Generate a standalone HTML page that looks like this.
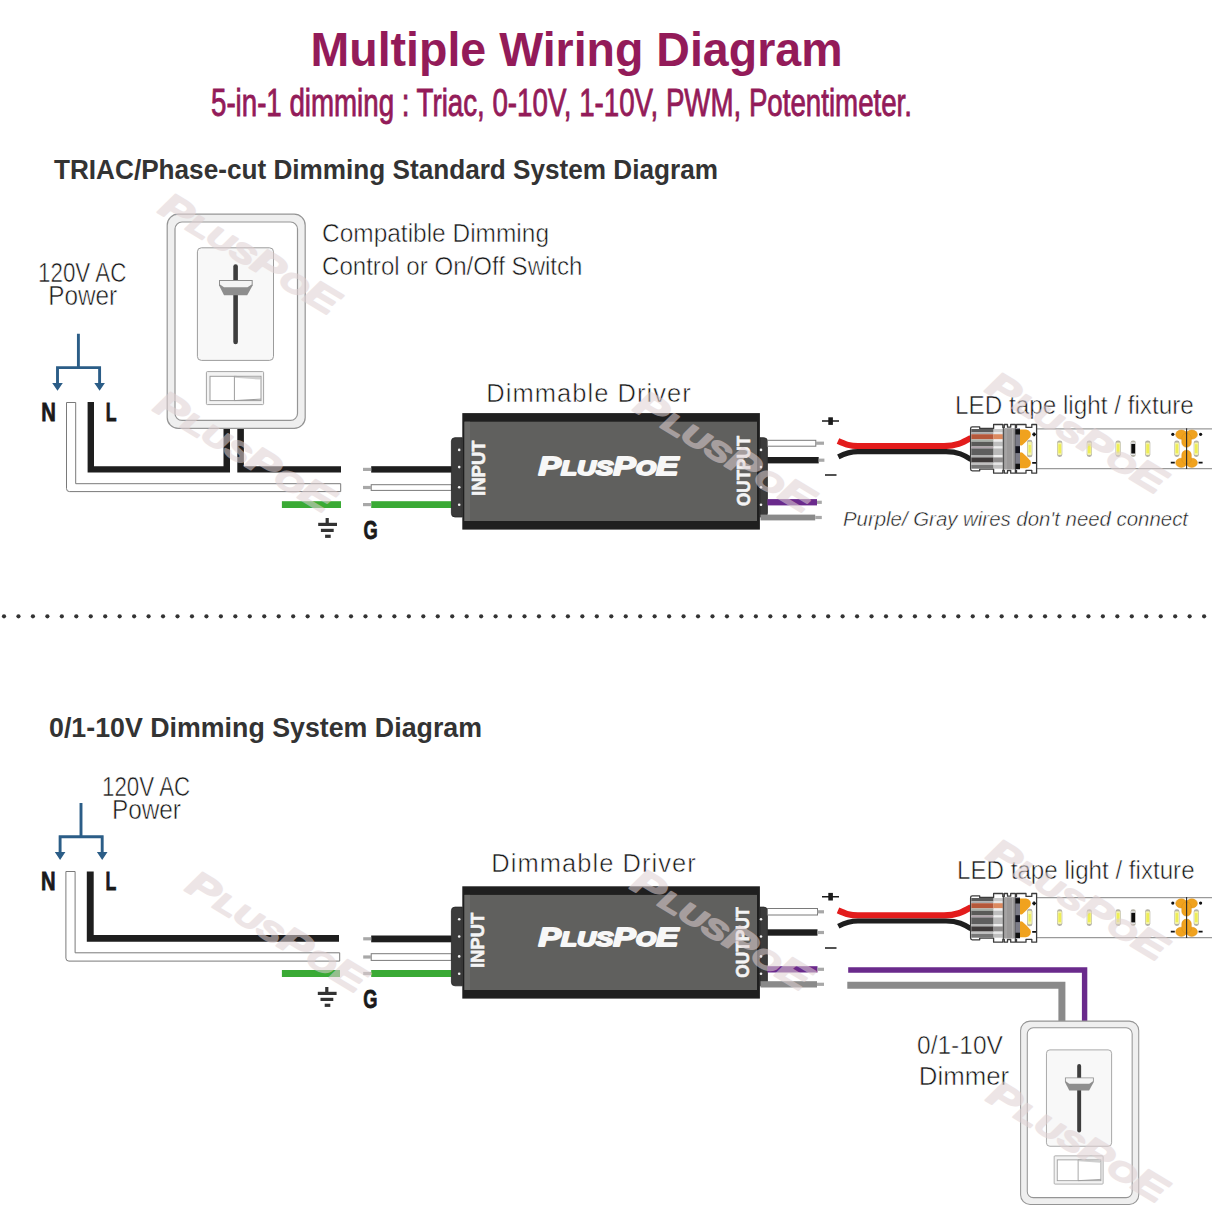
<!DOCTYPE html>
<html><head><meta charset="utf-8"><style>
html,body{margin:0;padding:0;background:#fff;}
svg{display:block;}
</style></head><body>
<svg width="1215" height="1227" viewBox="0 0 1215 1227">
<rect width="1215" height="1227" fill="#ffffff"/>
<text x="310.5" y="66" font-family="Liberation Sans" font-size="48.5" font-weight="bold" font-style="normal" fill="#931b59" textLength="532" lengthAdjust="spacingAndGlyphs" >Multiple Wiring Diagram</text>
<text x="211" y="115.5" font-family="Liberation Sans" font-size="39.5" font-weight="normal" font-style="normal" fill="#931b59" textLength="701" lengthAdjust="spacingAndGlyphs" stroke="#931b59" stroke-width="0.9">5-in-1 dimming : Triac, 0-10V, 1-10V, PWM, Potentimeter.</text>
<text x="54" y="178.6" font-family="Liberation Sans" font-size="27" font-weight="bold" font-style="normal" fill="#333333" textLength="664" lengthAdjust="spacingAndGlyphs" >TRIAC/Phase-cut Dimming Standard System Diagram</text>
<text x="49" y="736.5" font-family="Liberation Sans" font-size="27" font-weight="bold" font-style="normal" fill="#333333" textLength="433" lengthAdjust="spacingAndGlyphs" >0/1-10V Dimming System Diagram</text>
<circle cx="4.00" cy="616.3" r="2.1" fill="#333"/>
<circle cx="18.46" cy="616.3" r="2.1" fill="#333"/>
<circle cx="32.92" cy="616.3" r="2.1" fill="#333"/>
<circle cx="47.38" cy="616.3" r="2.1" fill="#333"/>
<circle cx="61.84" cy="616.3" r="2.1" fill="#333"/>
<circle cx="76.30" cy="616.3" r="2.1" fill="#333"/>
<circle cx="90.75" cy="616.3" r="2.1" fill="#333"/>
<circle cx="105.21" cy="616.3" r="2.1" fill="#333"/>
<circle cx="119.67" cy="616.3" r="2.1" fill="#333"/>
<circle cx="134.13" cy="616.3" r="2.1" fill="#333"/>
<circle cx="148.59" cy="616.3" r="2.1" fill="#333"/>
<circle cx="163.05" cy="616.3" r="2.1" fill="#333"/>
<circle cx="177.51" cy="616.3" r="2.1" fill="#333"/>
<circle cx="191.97" cy="616.3" r="2.1" fill="#333"/>
<circle cx="206.43" cy="616.3" r="2.1" fill="#333"/>
<circle cx="220.88" cy="616.3" r="2.1" fill="#333"/>
<circle cx="235.34" cy="616.3" r="2.1" fill="#333"/>
<circle cx="249.80" cy="616.3" r="2.1" fill="#333"/>
<circle cx="264.26" cy="616.3" r="2.1" fill="#333"/>
<circle cx="278.72" cy="616.3" r="2.1" fill="#333"/>
<circle cx="293.18" cy="616.3" r="2.1" fill="#333"/>
<circle cx="307.64" cy="616.3" r="2.1" fill="#333"/>
<circle cx="322.10" cy="616.3" r="2.1" fill="#333"/>
<circle cx="336.56" cy="616.3" r="2.1" fill="#333"/>
<circle cx="351.02" cy="616.3" r="2.1" fill="#333"/>
<circle cx="365.47" cy="616.3" r="2.1" fill="#333"/>
<circle cx="379.93" cy="616.3" r="2.1" fill="#333"/>
<circle cx="394.39" cy="616.3" r="2.1" fill="#333"/>
<circle cx="408.85" cy="616.3" r="2.1" fill="#333"/>
<circle cx="423.31" cy="616.3" r="2.1" fill="#333"/>
<circle cx="437.77" cy="616.3" r="2.1" fill="#333"/>
<circle cx="452.23" cy="616.3" r="2.1" fill="#333"/>
<circle cx="466.69" cy="616.3" r="2.1" fill="#333"/>
<circle cx="481.15" cy="616.3" r="2.1" fill="#333"/>
<circle cx="495.61" cy="616.3" r="2.1" fill="#333"/>
<circle cx="510.06" cy="616.3" r="2.1" fill="#333"/>
<circle cx="524.52" cy="616.3" r="2.1" fill="#333"/>
<circle cx="538.98" cy="616.3" r="2.1" fill="#333"/>
<circle cx="553.44" cy="616.3" r="2.1" fill="#333"/>
<circle cx="567.90" cy="616.3" r="2.1" fill="#333"/>
<circle cx="582.36" cy="616.3" r="2.1" fill="#333"/>
<circle cx="596.82" cy="616.3" r="2.1" fill="#333"/>
<circle cx="611.28" cy="616.3" r="2.1" fill="#333"/>
<circle cx="625.74" cy="616.3" r="2.1" fill="#333"/>
<circle cx="640.20" cy="616.3" r="2.1" fill="#333"/>
<circle cx="654.65" cy="616.3" r="2.1" fill="#333"/>
<circle cx="669.11" cy="616.3" r="2.1" fill="#333"/>
<circle cx="683.57" cy="616.3" r="2.1" fill="#333"/>
<circle cx="698.03" cy="616.3" r="2.1" fill="#333"/>
<circle cx="712.49" cy="616.3" r="2.1" fill="#333"/>
<circle cx="726.95" cy="616.3" r="2.1" fill="#333"/>
<circle cx="741.41" cy="616.3" r="2.1" fill="#333"/>
<circle cx="755.87" cy="616.3" r="2.1" fill="#333"/>
<circle cx="770.33" cy="616.3" r="2.1" fill="#333"/>
<circle cx="784.79" cy="616.3" r="2.1" fill="#333"/>
<circle cx="799.25" cy="616.3" r="2.1" fill="#333"/>
<circle cx="813.70" cy="616.3" r="2.1" fill="#333"/>
<circle cx="828.16" cy="616.3" r="2.1" fill="#333"/>
<circle cx="842.62" cy="616.3" r="2.1" fill="#333"/>
<circle cx="857.08" cy="616.3" r="2.1" fill="#333"/>
<circle cx="871.54" cy="616.3" r="2.1" fill="#333"/>
<circle cx="886.00" cy="616.3" r="2.1" fill="#333"/>
<circle cx="900.46" cy="616.3" r="2.1" fill="#333"/>
<circle cx="914.92" cy="616.3" r="2.1" fill="#333"/>
<circle cx="929.38" cy="616.3" r="2.1" fill="#333"/>
<circle cx="943.83" cy="616.3" r="2.1" fill="#333"/>
<circle cx="958.29" cy="616.3" r="2.1" fill="#333"/>
<circle cx="972.75" cy="616.3" r="2.1" fill="#333"/>
<circle cx="987.21" cy="616.3" r="2.1" fill="#333"/>
<circle cx="1001.67" cy="616.3" r="2.1" fill="#333"/>
<circle cx="1016.13" cy="616.3" r="2.1" fill="#333"/>
<circle cx="1030.59" cy="616.3" r="2.1" fill="#333"/>
<circle cx="1045.05" cy="616.3" r="2.1" fill="#333"/>
<circle cx="1059.51" cy="616.3" r="2.1" fill="#333"/>
<circle cx="1073.97" cy="616.3" r="2.1" fill="#333"/>
<circle cx="1088.42" cy="616.3" r="2.1" fill="#333"/>
<circle cx="1102.88" cy="616.3" r="2.1" fill="#333"/>
<circle cx="1117.34" cy="616.3" r="2.1" fill="#333"/>
<circle cx="1131.80" cy="616.3" r="2.1" fill="#333"/>
<circle cx="1146.26" cy="616.3" r="2.1" fill="#333"/>
<circle cx="1160.72" cy="616.3" r="2.1" fill="#333"/>
<circle cx="1175.18" cy="616.3" r="2.1" fill="#333"/>
<circle cx="1189.64" cy="616.3" r="2.1" fill="#333"/>
<circle cx="1204.10" cy="616.3" r="2.1" fill="#333"/>
<text x="38" y="281.6" font-family="Liberation Sans" font-size="27" font-weight="normal" font-style="normal" fill="#161616" textLength="88.4" lengthAdjust="spacingAndGlyphs"  stroke="#fff" stroke-width="0.55">120V AC</text>
<text x="48.2" y="304.8" font-family="Liberation Sans" font-size="27" font-weight="normal" font-style="normal" fill="#161616" textLength="69" lengthAdjust="spacingAndGlyphs"  stroke="#fff" stroke-width="0.55">Power</text>
<g transform="translate(0,0)" stroke="#2b5d87" stroke-width="2.9" fill="none"><path d="M78.4,333.8 V367.6 M56.2,367.6 H100.9 M57.5,366.3 V384 M99.6,366.3 V384"/></g>
<g transform="translate(0,0)" fill="#2b5d87"><path d="M52.2,383 H62.8 L57.5,390.8 Z M94.3,383 H104.9 L99.6,390.8 Z"/></g>
<text x="41.2" y="420.5" font-family="Liberation Sans" font-size="26.5" font-weight="bold" font-style="normal" fill="#1a1a1a" textLength="14.6" lengthAdjust="spacingAndGlyphs" stroke="#1a1a1a" stroke-width="0.8">N</text>
<text x="105.8" y="420.5" font-family="Liberation Sans" font-size="26.5" font-weight="bold" font-style="normal" fill="#1a1a1a" textLength="10.8" lengthAdjust="spacingAndGlyphs" stroke="#1a1a1a" stroke-width="0.8">L</text>
<path d="M66.5,402.5 H75.7 V483.7 H340.7 V491.6 H69.5 Q66.5,491.6 66.5,488.6 Z" fill="#fff" stroke="#7a7a7a" stroke-width="1"/>
<path d="M87.6,402 H94 V466.2 H223.5 V429 H230 V472.6 H87.6 Z" fill="#1e1e1e"/>
<path d="M237.3,429 H243.9 V466.2 H341 V472.6 H237.3 Z" fill="#1e1e1e"/>
<rect x="281.90" y="501.20" width="59.10" height="6.80" fill="#3aaa35" />
<g transform="translate(166.6,213.6) scale(1.0)"><rect x="0.6" y="0.6" width="138.0" height="214.20000000000002" rx="11" fill="#efefef" stroke="#959595" stroke-width="1.2"/><rect x="8.4" y="8.4" width="122.5" height="198.4" rx="7" fill="#ffffff" stroke="#959595" stroke-width="1.2"/><rect x="30.8" y="34.2" width="76.1" height="112.6" rx="4" fill="#f8f8f8" stroke="#9c9c9c" stroke-width="1"/><rect x="66.7" y="50.7" width="4.6" height="80" rx="2.3" fill="#3e3e3e"/><polygon points="52.4,66.4 86.1,66.4 86.1,71.7 80.6,81.6 57.4,81.6 52.4,71.7" fill="#8e8e8e"/><polygon points="53.4,67.4 85.1,67.4 85.1,70.9 80.9,73.7 57.4,73.7 53.4,70.9" fill="#f4f4f4"/><rect x="39.8" y="158" width="57.2" height="33" rx="1" fill="#f3f3f3" stroke="#a4a4a4" stroke-width="1"/><rect x="43.4" y="162.7" width="51" height="24.3" fill="#fff" stroke="#9c9c9c" stroke-width="1"/><path d="M67.8,162.7 V187 M67.8,162.7 L94.4,164.5 M67.8,187 L94.4,185.5" stroke="#9c9c9c" stroke-width="1" fill="none"/><polygon points="68.3,163.2 93.9,163.2 93.9,166 68.3,164.2" fill="#cfcfcf"/></g>
<text x="322" y="242.4" font-family="Liberation Sans" font-size="26" font-weight="normal" font-style="normal" fill="#161616" textLength="227" lengthAdjust="spacingAndGlyphs"  stroke="#fff" stroke-width="0.55">Compatible Dimming</text>
<text x="322" y="274.7" font-family="Liberation Sans" font-size="26" font-weight="normal" font-style="normal" fill="#161616" textLength="260.5" lengthAdjust="spacingAndGlyphs"  stroke="#fff" stroke-width="0.55">Control or On/Off Switch</text>
<g transform="translate(0,0)" fill="#333"><rect x="325.6" y="518" width="3.2" height="7"/><rect x="318.2" y="522.8" width="18.8" height="3.2"/><rect x="320.9" y="528.8" width="12.8" height="3.2"/><rect x="325.1" y="534.7" width="5.6" height="3.2"/></g>
<text x="363.6" y="538.6" font-family="Liberation Sans" font-size="26.3" font-weight="bold" font-style="normal" fill="#1a1a1a" textLength="14.2" lengthAdjust="spacingAndGlyphs" stroke="#1a1a1a" stroke-width="0.8">G</text>
<rect x="371.20" y="466.20" width="80.50" height="6.40" fill="#1e1e1e" />
<rect x="363.00" y="467.80" width="8.20" height="3.20" fill="#a8a8a8" />
<rect x="371.20" y="484.70" width="80.40" height="5.70" fill="#fff" stroke="#7a7a7a" stroke-width="1"/>
<rect x="363.00" y="485.90" width="8.20" height="3.20" fill="#a8a8a8" />
<rect x="371.20" y="501.20" width="80.50" height="6.80" fill="#3aaa35" />
<rect x="363.00" y="503.00" width="8.20" height="3.20" fill="#a8a8a8" />
<text x="486.3" y="401.5" font-family="Liberation Sans" font-size="25.5" font-weight="normal" font-style="normal" fill="#161616" textLength="204.5" lengthAdjust="spacing"  stroke="#fff" stroke-width="0.55">Dimmable Driver</text>
<rect x="462.30" y="413.10" width="297.60" height="116.50" fill="#1f1f1f" />
<rect x="464.50" y="421.70" width="292.50" height="99.30" fill="#60605e" />
<rect x="464.50" y="421.70" width="5.50" height="99.30" fill="#6a6a68" />
<path d="M462.3,437.7 H455 Q451.4,437.7 451.4,441.3 V513.4 Q451.4,517 455,517 H462.3 Z" fill="#3b3b3b" stroke="#262626" stroke-width="0.8"/>
<path d="M759.9,437.7 H763.8 Q767.4,437.7 767.4,441.3 V513.4 Q767.4,517 763.8,517 H759.9 Z" fill="#3b3b3b" stroke="#262626" stroke-width="0.8"/>
<circle cx="459.2" cy="449.9" r="1.3" fill="#f0f0f0"/>
<circle cx="761" cy="449.9" r="1.3" fill="#f0f0f0"/>
<circle cx="459.2" cy="467.1" r="1.3" fill="#f0f0f0"/>
<circle cx="761" cy="467.1" r="1.3" fill="#f0f0f0"/>
<circle cx="459.2" cy="487.3" r="1.3" fill="#f0f0f0"/>
<circle cx="761" cy="487.3" r="1.3" fill="#f0f0f0"/>
<circle cx="459.2" cy="504.8" r="1.3" fill="#f0f0f0"/>
<circle cx="761" cy="504.8" r="1.3" fill="#f0f0f0"/>
<text transform="translate(484.6,495.9) rotate(-90)" font-family="Liberation Sans" font-weight="bold" font-size="19" fill="#f4f4f4" stroke="#f4f4f4" stroke-width="0.6" textLength="55.4" lengthAdjust="spacingAndGlyphs">INPUT</text>
<text transform="translate(749.8,506) rotate(-90)" font-family="Liberation Sans" font-weight="bold" font-size="18" fill="#f4f4f4" stroke="#f4f4f4" stroke-width="0.6" textLength="70.3" lengthAdjust="spacingAndGlyphs">OUTPUT</text>
<text x="538.5" y="475" font-family="Liberation Sans" font-weight="bold" font-style="italic" fill="#f7f7f7" stroke="#f7f7f7" stroke-width="1.8" stroke-linejoin="round" textLength="140" lengthAdjust="spacingAndGlyphs" font-size="25">P<tspan font-size="19.5">LUS</tspan>P<tspan font-size="19.5">O</tspan>E</text>
<rect x="767.40" y="440.30" width="48.40" height="5.90" fill="#fff" stroke="#7a7a7a" stroke-width="1"/>
<rect x="815.80" y="441.60" width="8.20" height="3.20" fill="#a8a8a8" />
<rect x="767.40" y="457.00" width="51.30" height="6.40" fill="#1e1e1e" />
<rect x="818.70" y="458.60" width="5.70" height="3.20" fill="#a8a8a8" />
<rect x="767.40" y="499.10" width="49.60" height="6.30" fill="#6a2a8c" />
<rect x="817.00" y="500.70" width="4.80" height="3.20" fill="#a8a8a8" />
<rect x="760.50" y="514.60" width="54.70" height="5.80" fill="#8a8a8a" />
<rect x="815.20" y="515.90" width="6.60" height="3.20" fill="#a8a8a8" />
<path d="M822,421.1 H839 M825,475.1 H836.5" stroke="#1a1a1a" stroke-width="1.5"/>
<rect x="828.30" y="417.30" width="4.60" height="7.60" fill="#1a1a1a" />
<g transform="translate(0,0)" fill="none" stroke-linecap="butt"><path d="M838,441 C846,444.5 850,446.1 858,446.1 H944 C956,446.1 962,443 971,437.9" stroke="#e31c1c" stroke-width="6.2"/><path d="M838.3,456.9 C846,453 850,451.7 858,451.7 H946 C958,451.7 964,455 971,459.5" stroke="#1e1e1e" stroke-width="5.2"/></g>
<rect x="1036.00" y="428.80" width="180.00" height="39.80" fill="#ffffff" />
<path d="M1036,428.8 H1212 M1036,468.6 H1212" stroke="#9a9a9a" stroke-width="1.2"/>
<rect x="1057.10" y="440.40" width="5.2" height="16.6" rx="2.4" fill="#b4b2a6"/><rect x="1057.60" y="442.40" width="4.20" height="12.60" rx="1" fill="#f4f3a8"/><rect x="1058.40" y="444.20" width="2.6" height="9" fill="#eeee55"/>
<rect x="1086.70" y="440.40" width="5.2" height="16.6" rx="2.4" fill="#b4b2a6"/><rect x="1087.20" y="442.40" width="4.20" height="12.60" rx="1" fill="#f4f3a8"/><rect x="1088.00" y="444.20" width="2.6" height="9" fill="#eeee55"/>
<rect x="1115.50" y="440.40" width="5.2" height="16.6" rx="2.4" fill="#b4b2a6"/><rect x="1116.00" y="442.40" width="4.20" height="12.60" rx="1" fill="#f4f3a8"/><rect x="1116.80" y="444.20" width="2.6" height="9" fill="#eeee55"/>
<rect x="1145.10" y="440.40" width="5.2" height="16.6" rx="2.4" fill="#b4b2a6"/><rect x="1145.60" y="442.40" width="4.20" height="12.60" rx="1" fill="#f4f3a8"/><rect x="1146.40" y="444.20" width="2.6" height="9" fill="#eeee55"/>
<rect x="1174.30" y="440.40" width="5.2" height="16.6" rx="2.4" fill="#b4b2a6"/><rect x="1174.80" y="442.40" width="4.20" height="12.60" rx="1" fill="#f4f3a8"/><rect x="1175.60" y="444.20" width="2.6" height="9" fill="#eeee55"/>
<rect x="1193.70" y="440.40" width="5.2" height="16.6" rx="2.4" fill="#b4b2a6"/><rect x="1194.20" y="442.40" width="4.20" height="12.60" rx="1" fill="#f4f3a8"/><rect x="1195.00" y="444.20" width="2.6" height="9" fill="#eeee55"/>
<rect x="1130.60" y="440.40" width="5.2" height="16.6" rx="2.4" fill="#b4b2a6"/><rect x="1130.90" y="442.40" width="4.60" height="12.60" fill="#e8e8e8"/><rect x="1131.30" y="443.90" width="3.80" height="9.6" fill="#0c0c0c"/>
<g fill="#f0a21e" stroke="#d89018" stroke-width="0.5"><ellipse cx="1181.3" cy="434.60" rx="5.6" ry="4.6"/><ellipse cx="1191.8" cy="434.60" rx="5.6" ry="4.6"/><rect x="1181.8" y="433.30" width="9.5" height="13.90" rx="4.7"/></g>
<g fill="#f0a21e" stroke="#d89018" stroke-width="0.5"><ellipse cx="1181.3" cy="462.80" rx="5.6" ry="4.6"/><ellipse cx="1191.8" cy="462.80" rx="5.6" ry="4.6"/><rect x="1181.8" y="450.20" width="9.5" height="13.90" rx="4.7"/></g>
<path d="M1186.6,428.3 V469.1" stroke="#2a2a2a" stroke-width="1.1"/>
<circle cx="1172.8" cy="434.3" r="1.6" fill="#111"/><circle cx="1200.6" cy="434.3" r="1.6" fill="#111"/>
<path d="M1170.8,462.6 H1174.8 M1198.6,462.6 H1202.6" stroke="#111" stroke-width="1.8"/>
<g transform="translate(0,0.00)"><path d="M972.3,426.9 H979.70 V428.50 H993.60 V424.50 H1002.80 V427.40 H1004.30 V424.50 H1007.50 V427.20 H1010.70 V424.50 H1015.40 V427.40 H1016.50 V424.50 H1026.00 V427.40 H1031.80 V424.50 H1036.60 V473.2 V473.20 H1031.80 V470.30 H1026.00 V473.20 H1016.50 V470.30 H1015.40 V473.20 H1010.70 V470.50 H1007.50 V473.20 H1004.30 V470.30 H1002.80 V473.20 H993.60 V469.20 H979.70 V470.80 H972.3 Q970.6,470.8 970.6,469 V428.6 Q970.6,426.9 972.3,426.9 Z" fill="#ffffff" stroke="#3c3c3c" stroke-width="1.3" stroke-linejoin="round"/><rect x="971.3" y="429" width="22.3" height="3.30" fill="#5a5a5a"/><rect x="971.3" y="432.3" width="22.3" height="1.90" fill="#aaaaaa"/><rect x="971.3" y="434.2" width="22.3" height="5.20" fill="#b5583a"/><rect x="971.3" y="439.4" width="22.3" height="2.30" fill="#a9b0a8"/><rect x="971.3" y="441.7" width="22.3" height="4.80" fill="#5a5a58"/><rect x="971.3" y="446.5" width="22.3" height="1.90" fill="#b0a3aa"/><rect x="971.3" y="448.4" width="22.3" height="6.60" fill="#5e5e5e"/><rect x="971.3" y="455" width="22.3" height="2.40" fill="#b0b0b0"/><rect x="971.3" y="457.4" width="22.3" height="5.20" fill="#3e3a3a"/><rect x="971.3" y="462.6" width="22.3" height="2.30" fill="#c0c0c0"/><rect x="971.3" y="464.9" width="22.3" height="3.80" fill="#777777"/><rect x="993.6" y="429" width="9.2" height="3.30" fill="#c8c8c8"/><rect x="993.6" y="432.3" width="9.2" height="1.90" fill="#e6e6e6"/><rect x="993.6" y="434.2" width="9.2" height="5.20" fill="#dc8a60"/><rect x="993.6" y="439.4" width="9.2" height="2.30" fill="#eeeeee"/><rect x="993.6" y="441.7" width="9.2" height="4.80" fill="#bdbdbd"/><rect x="993.6" y="446.5" width="9.2" height="1.90" fill="#eeeeee"/><rect x="993.6" y="448.4" width="9.2" height="6.60" fill="#b9b9b9"/><rect x="993.6" y="455" width="9.2" height="2.40" fill="#efefef"/><rect x="993.6" y="457.4" width="9.2" height="5.20" fill="#8e8c8c"/><rect x="993.6" y="462.6" width="9.2" height="2.30" fill="#e6e6e6"/><rect x="993.6" y="464.9" width="9.2" height="3.80" fill="#bfbfbf"/><rect x="1003.6" y="428.2" width="11.6" height="41.3" fill="#9b9999"/><path d="M1006,428.5 V469 M1012.5,428.5 V469" stroke="#b4b2b2" stroke-width="0.8"/><path d="M1003.3,427.4 V470.3 M1015.4,427.4 V470.3" stroke="#3c3c3c" stroke-width="1.1"/><rect x="1015.4" y="428.2" width="4.6" height="41.3" fill="#7c7c88"/><rect x="1015.4" y="429.2" width="4.6" height="5.3" fill="#111"/><rect x="1015.4" y="446.2" width="4.6" height="6.9" fill="#14141e"/><rect x="1015.4" y="463.7" width="4.6" height="5.3" fill="#111"/><path d="M1020,429.5 H1026 A5.2,5.2 0 0 1 1030.4,437 Q1027,441 1022.5,445 Q1020.5,446 1020,445 Z" fill="#f0a21e"/><path d="M1020,468.2 H1026 A5.2,5.2 0 0 0 1030.4,460.7 Q1027,456.7 1022.5,452.7 Q1020.5,451.7 1020,452.7 Z" fill="#f0a21e"/><rect x="1027" y="439.8" width="5.4" height="17.5" rx="2.4" fill="#b4b2a6"/><rect x="1027.6" y="441.8" width="4.2" height="13.5" rx="1.2" fill="#f4f3a8"/><rect x="1028.6" y="445" width="2.2" height="7.5" fill="#eeee55"/><path d="M1032.2,434.3 H1036 M1034.1,432.4 V436.2 M1032.2,462.9 H1036" stroke="#111" stroke-width="1.8"/></g>
<text x="955" y="414" font-family="Liberation Sans" font-size="25.5" font-weight="normal" font-style="normal" fill="#161616" textLength="238.8" lengthAdjust="spacingAndGlyphs"  stroke="#fff" stroke-width="0.55">LED tape light / fixture</text>
<text x="843" y="526.3" font-family="Liberation Sans" font-size="20" font-weight="normal" font-style="italic" fill="#1a1a1a" textLength="345" lengthAdjust="spacingAndGlyphs"  stroke="#fff" stroke-width="0.45">Purple/ Gray wires don't need connect</text>
<text x="102" y="795.9" font-family="Liberation Sans" font-size="27" font-weight="normal" font-style="normal" fill="#161616" textLength="88.2" lengthAdjust="spacingAndGlyphs"  stroke="#fff" stroke-width="0.55">120V AC</text>
<text x="111.9" y="819" font-family="Liberation Sans" font-size="27" font-weight="normal" font-style="normal" fill="#161616" textLength="69.1" lengthAdjust="spacingAndGlyphs"  stroke="#fff" stroke-width="0.55">Power</text>
<g transform="translate(2.6,469.1)" stroke="#2b5d87" stroke-width="2.9" fill="none"><path d="M78.4,333.8 V367.6 M56.2,367.6 H100.9 M57.5,366.3 V384 M99.6,366.3 V384"/></g>
<g transform="translate(2.6,469.1)" fill="#2b5d87"><path d="M52.2,383 H62.8 L57.5,390.8 Z M94.3,383 H104.9 L99.6,390.8 Z"/></g>
<text x="40.900000000000006" y="889.5" font-family="Liberation Sans" font-size="26.5" font-weight="bold" font-style="normal" fill="#1a1a1a" textLength="14.6" lengthAdjust="spacingAndGlyphs" stroke="#1a1a1a" stroke-width="0.8">N</text>
<text x="105.5" y="889.5" font-family="Liberation Sans" font-size="26.5" font-weight="bold" font-style="normal" fill="#1a1a1a" textLength="10.8" lengthAdjust="spacingAndGlyphs" stroke="#1a1a1a" stroke-width="0.8">L</text>
<path d="M65.9,871.5 H75.1 V952.8 H339.7 V961.1 H68.9 Q65.9,961.1 65.9,958.1 Z" fill="#fff" stroke="#7a7a7a" stroke-width="1"/>
<path d="M86.8,871.4 H93.7 V935.1 H339 V941.7 H86.8 Z" fill="#1e1e1e"/>
<rect x="281.90" y="970.00" width="58.10" height="7.00" fill="#3aaa35" />
<g transform="translate(-0.4,469)" fill="#333"><rect x="325.6" y="518" width="3.2" height="7"/><rect x="318.2" y="522.8" width="18.8" height="3.2"/><rect x="320.9" y="528.8" width="12.8" height="3.2"/><rect x="325.1" y="534.7" width="5.6" height="3.2"/></g>
<text x="363.20000000000005" y="1007.6" font-family="Liberation Sans" font-size="26.3" font-weight="bold" font-style="normal" fill="#1a1a1a" textLength="14.2" lengthAdjust="spacingAndGlyphs" stroke="#1a1a1a" stroke-width="0.8">G</text>
<rect x="371.20" y="935.50" width="80.30" height="6.80" fill="#1e1e1e" />
<rect x="363.20" y="937.20" width="8.00" height="3.20" fill="#a8a8a8" />
<rect x="371.20" y="953.70" width="80.20" height="6.70" fill="#fff" stroke="#7a7a7a" stroke-width="1"/>
<rect x="363.20" y="955.40" width="8.00" height="3.20" fill="#a8a8a8" />
<rect x="371.20" y="970.00" width="80.30" height="7.00" fill="#3aaa35" />
<rect x="363.20" y="971.90" width="8.00" height="3.20" fill="#a8a8a8" />
<text x="491.3" y="871.5" font-family="Liberation Sans" font-size="25.5" font-weight="normal" font-style="normal" fill="#161616" textLength="204.5" lengthAdjust="spacing"  stroke="#fff" stroke-width="0.55">Dimmable Driver</text>
<rect x="462.30" y="886.30" width="297.60" height="112.30" fill="#1f1f1f" />
<rect x="464.50" y="894.90" width="292.50" height="95.10" fill="#60605e" />
<rect x="464.50" y="894.90" width="5.50" height="95.10" fill="#6a6a68" />
<path d="M462.3,907.1 H455 Q451.4,907.1 451.4,910.7 V982.1999999999999 Q451.4,985.8 455,985.8 H462.3 Z" fill="#3b3b3b" stroke="#262626" stroke-width="0.8"/>
<path d="M759.9,907.1 H763.8 Q767.4,907.1 767.4,910.7 V982.1999999999999 Q767.4,985.8 763.8,985.8 H759.9 Z" fill="#3b3b3b" stroke="#262626" stroke-width="0.8"/>
<circle cx="459.2" cy="919.2" r="1.3" fill="#f0f0f0"/>
<circle cx="761" cy="919.2" r="1.3" fill="#f0f0f0"/>
<circle cx="459.2" cy="936.5" r="1.3" fill="#f0f0f0"/>
<circle cx="761" cy="936.5" r="1.3" fill="#f0f0f0"/>
<circle cx="459.2" cy="956.4" r="1.3" fill="#f0f0f0"/>
<circle cx="761" cy="956.4" r="1.3" fill="#f0f0f0"/>
<circle cx="459.2" cy="973.7" r="1.3" fill="#f0f0f0"/>
<circle cx="761" cy="973.7" r="1.3" fill="#f0f0f0"/>
<text transform="translate(483.6,968.1) rotate(-90)" font-family="Liberation Sans" font-weight="bold" font-size="18.2" fill="#f4f4f4" stroke="#f4f4f4" stroke-width="0.6" textLength="55.4" lengthAdjust="spacingAndGlyphs">INPUT</text>
<text transform="translate(749.4,977.7) rotate(-90)" font-family="Liberation Sans" font-weight="bold" font-size="18" fill="#f4f4f4" stroke="#f4f4f4" stroke-width="0.6" textLength="70.8" lengthAdjust="spacingAndGlyphs">OUTPUT</text>
<text x="538.5" y="945.7" font-family="Liberation Sans" font-weight="bold" font-style="italic" fill="#f7f7f7" stroke="#f7f7f7" stroke-width="1.8" stroke-linejoin="round" textLength="140" lengthAdjust="spacingAndGlyphs" font-size="25">P<tspan font-size="19.5">LUS</tspan>P<tspan font-size="19.5">O</tspan>E</text>
<rect x="767.40" y="908.50" width="50.10" height="6.50" fill="#fff" stroke="#7a7a7a" stroke-width="1"/>
<rect x="817.50" y="910.20" width="6.50" height="3.20" fill="#a8a8a8" />
<rect x="767.40" y="929.30" width="50.10" height="6.40" fill="#1e1e1e" />
<rect x="817.50" y="930.90" width="6.50" height="3.20" fill="#a8a8a8" />
<rect x="767.40" y="966.20" width="50.10" height="6.30" fill="#6a2a8c" />
<rect x="817.50" y="967.70" width="6.50" height="3.20" fill="#a8a8a8" />
<rect x="760.50" y="981.20" width="56.50" height="6.30" fill="#8a8a8a" />
<rect x="817.00" y="982.70" width="7.00" height="3.20" fill="#a8a8a8" />
<path d="M822,896.7 H839 M825,948.1 H836.5" stroke="#1a1a1a" stroke-width="1.5"/>
<rect x="828.30" y="892.90" width="4.60" height="7.60" fill="#1a1a1a" />
<g transform="translate(0,469.3)" fill="none" stroke-linecap="butt"><path d="M838,441 C846,444.5 850,446.1 858,446.1 H944 C956,446.1 962,443 971,437.9" stroke="#e31c1c" stroke-width="6.2"/><path d="M838.3,456.9 C846,453 850,451.7 858,451.7 H946 C958,451.7 964,455 971,459.5" stroke="#1e1e1e" stroke-width="5.2"/></g>
<rect x="1036.00" y="897.60" width="180.00" height="40.00" fill="#ffffff" />
<path d="M1036,897.6 H1212 M1036,937.6 H1212" stroke="#9a9a9a" stroke-width="1.2"/>
<rect x="1057.10" y="909.30" width="5.2" height="16.6" rx="2.4" fill="#b4b2a6"/><rect x="1057.60" y="911.30" width="4.20" height="12.60" rx="1" fill="#f4f3a8"/><rect x="1058.40" y="913.10" width="2.6" height="9" fill="#eeee55"/>
<rect x="1086.70" y="909.30" width="5.2" height="16.6" rx="2.4" fill="#b4b2a6"/><rect x="1087.20" y="911.30" width="4.20" height="12.60" rx="1" fill="#f4f3a8"/><rect x="1088.00" y="913.10" width="2.6" height="9" fill="#eeee55"/>
<rect x="1115.50" y="909.30" width="5.2" height="16.6" rx="2.4" fill="#b4b2a6"/><rect x="1116.00" y="911.30" width="4.20" height="12.60" rx="1" fill="#f4f3a8"/><rect x="1116.80" y="913.10" width="2.6" height="9" fill="#eeee55"/>
<rect x="1145.10" y="909.30" width="5.2" height="16.6" rx="2.4" fill="#b4b2a6"/><rect x="1145.60" y="911.30" width="4.20" height="12.60" rx="1" fill="#f4f3a8"/><rect x="1146.40" y="913.10" width="2.6" height="9" fill="#eeee55"/>
<rect x="1174.30" y="909.30" width="5.2" height="16.6" rx="2.4" fill="#b4b2a6"/><rect x="1174.80" y="911.30" width="4.20" height="12.60" rx="1" fill="#f4f3a8"/><rect x="1175.60" y="913.10" width="2.6" height="9" fill="#eeee55"/>
<rect x="1193.70" y="909.30" width="5.2" height="16.6" rx="2.4" fill="#b4b2a6"/><rect x="1194.20" y="911.30" width="4.20" height="12.60" rx="1" fill="#f4f3a8"/><rect x="1195.00" y="913.10" width="2.6" height="9" fill="#eeee55"/>
<rect x="1130.60" y="909.30" width="5.2" height="16.6" rx="2.4" fill="#b4b2a6"/><rect x="1130.90" y="911.30" width="4.60" height="12.60" fill="#e8e8e8"/><rect x="1131.30" y="912.80" width="3.80" height="9.6" fill="#0c0c0c"/>
<g fill="#f0a21e" stroke="#d89018" stroke-width="0.5"><ellipse cx="1181.3" cy="903.40" rx="5.6" ry="4.6"/><ellipse cx="1191.8" cy="903.40" rx="5.6" ry="4.6"/><rect x="1181.8" y="902.10" width="9.5" height="14.00" rx="4.7"/></g>
<g fill="#f0a21e" stroke="#d89018" stroke-width="0.5"><ellipse cx="1181.3" cy="931.80" rx="5.6" ry="4.6"/><ellipse cx="1191.8" cy="931.80" rx="5.6" ry="4.6"/><rect x="1181.8" y="919.10" width="9.5" height="14.00" rx="4.7"/></g>
<path d="M1186.6,897.1 V938.1" stroke="#2a2a2a" stroke-width="1.1"/>
<circle cx="1172.8" cy="903.1" r="1.6" fill="#111"/><circle cx="1200.6" cy="903.1" r="1.6" fill="#111"/>
<path d="M1170.8,931.6 H1174.8 M1198.6,931.6 H1202.6" stroke="#111" stroke-width="1.8"/>
<g transform="translate(0,469.00)"><path d="M972.3,426.9 H979.70 V428.50 H993.60 V424.50 H1002.80 V427.40 H1004.30 V424.50 H1007.50 V427.20 H1010.70 V424.50 H1015.40 V427.40 H1016.50 V424.50 H1026.00 V427.40 H1031.80 V424.50 H1036.60 V473.2 V473.20 H1031.80 V470.30 H1026.00 V473.20 H1016.50 V470.30 H1015.40 V473.20 H1010.70 V470.50 H1007.50 V473.20 H1004.30 V470.30 H1002.80 V473.20 H993.60 V469.20 H979.70 V470.80 H972.3 Q970.6,470.8 970.6,469 V428.6 Q970.6,426.9 972.3,426.9 Z" fill="#ffffff" stroke="#3c3c3c" stroke-width="1.3" stroke-linejoin="round"/><rect x="971.3" y="429" width="22.3" height="3.30" fill="#5a5a5a"/><rect x="971.3" y="432.3" width="22.3" height="1.90" fill="#aaaaaa"/><rect x="971.3" y="434.2" width="22.3" height="5.20" fill="#b5583a"/><rect x="971.3" y="439.4" width="22.3" height="2.30" fill="#a9b0a8"/><rect x="971.3" y="441.7" width="22.3" height="4.80" fill="#5a5a58"/><rect x="971.3" y="446.5" width="22.3" height="1.90" fill="#b0a3aa"/><rect x="971.3" y="448.4" width="22.3" height="6.60" fill="#5e5e5e"/><rect x="971.3" y="455" width="22.3" height="2.40" fill="#b0b0b0"/><rect x="971.3" y="457.4" width="22.3" height="5.20" fill="#3e3a3a"/><rect x="971.3" y="462.6" width="22.3" height="2.30" fill="#c0c0c0"/><rect x="971.3" y="464.9" width="22.3" height="3.80" fill="#777777"/><rect x="993.6" y="429" width="9.2" height="3.30" fill="#c8c8c8"/><rect x="993.6" y="432.3" width="9.2" height="1.90" fill="#e6e6e6"/><rect x="993.6" y="434.2" width="9.2" height="5.20" fill="#dc8a60"/><rect x="993.6" y="439.4" width="9.2" height="2.30" fill="#eeeeee"/><rect x="993.6" y="441.7" width="9.2" height="4.80" fill="#bdbdbd"/><rect x="993.6" y="446.5" width="9.2" height="1.90" fill="#eeeeee"/><rect x="993.6" y="448.4" width="9.2" height="6.60" fill="#b9b9b9"/><rect x="993.6" y="455" width="9.2" height="2.40" fill="#efefef"/><rect x="993.6" y="457.4" width="9.2" height="5.20" fill="#8e8c8c"/><rect x="993.6" y="462.6" width="9.2" height="2.30" fill="#e6e6e6"/><rect x="993.6" y="464.9" width="9.2" height="3.80" fill="#bfbfbf"/><rect x="1003.6" y="428.2" width="11.6" height="41.3" fill="#9b9999"/><path d="M1006,428.5 V469 M1012.5,428.5 V469" stroke="#b4b2b2" stroke-width="0.8"/><path d="M1003.3,427.4 V470.3 M1015.4,427.4 V470.3" stroke="#3c3c3c" stroke-width="1.1"/><rect x="1015.4" y="428.2" width="4.6" height="41.3" fill="#7c7c88"/><rect x="1015.4" y="429.2" width="4.6" height="5.3" fill="#111"/><rect x="1015.4" y="446.2" width="4.6" height="6.9" fill="#14141e"/><rect x="1015.4" y="463.7" width="4.6" height="5.3" fill="#111"/><path d="M1020,429.5 H1026 A5.2,5.2 0 0 1 1030.4,437 Q1027,441 1022.5,445 Q1020.5,446 1020,445 Z" fill="#f0a21e"/><path d="M1020,468.2 H1026 A5.2,5.2 0 0 0 1030.4,460.7 Q1027,456.7 1022.5,452.7 Q1020.5,451.7 1020,452.7 Z" fill="#f0a21e"/><rect x="1027" y="439.8" width="5.4" height="17.5" rx="2.4" fill="#b4b2a6"/><rect x="1027.6" y="441.8" width="4.2" height="13.5" rx="1.2" fill="#f4f3a8"/><rect x="1028.6" y="445" width="2.2" height="7.5" fill="#eeee55"/><path d="M1032.2,434.3 H1036 M1034.1,432.4 V436.2 M1032.2,462.9 H1036" stroke="#111" stroke-width="1.8"/></g>
<text x="957" y="879" font-family="Liberation Sans" font-size="25.5" font-weight="normal" font-style="normal" fill="#161616" textLength="237.6" lengthAdjust="spacingAndGlyphs"  stroke="#fff" stroke-width="0.55">LED tape light / fixture</text>
<path d="M848.2,970 H1084.6 V1021" stroke="#6a2a8c" stroke-width="5.4" fill="none"/>
<path d="M847.3,985.2 H1061.9 V1021" stroke="#8a8a8a" stroke-width="7" fill="none"/>
<g transform="translate(1020.1,1020.6) scale(0.856)"><rect x="0.6" y="0.6" width="138.0" height="214.20000000000002" rx="11" fill="#efefef" stroke="#959595" stroke-width="1.2"/><rect x="8.4" y="8.4" width="122.5" height="198.4" rx="7" fill="#ffffff" stroke="#959595" stroke-width="1.2"/><rect x="30.8" y="34.2" width="76.1" height="112.6" rx="4" fill="#f8f8f8" stroke="#9c9c9c" stroke-width="1"/><rect x="66.7" y="50.7" width="4.6" height="80" rx="2.3" fill="#3e3e3e"/><polygon points="52.4,66.4 86.1,66.4 86.1,71.7 80.6,81.6 57.4,81.6 52.4,71.7" fill="#8e8e8e"/><polygon points="53.4,67.4 85.1,67.4 85.1,70.9 80.9,73.7 57.4,73.7 53.4,70.9" fill="#f4f4f4"/><rect x="39.8" y="158" width="57.2" height="33" rx="1" fill="#f3f3f3" stroke="#a4a4a4" stroke-width="1"/><rect x="43.4" y="162.7" width="51" height="24.3" fill="#fff" stroke="#9c9c9c" stroke-width="1"/><path d="M67.8,162.7 V187 M67.8,162.7 L94.4,164.5 M67.8,187 L94.4,185.5" stroke="#9c9c9c" stroke-width="1" fill="none"/><polygon points="68.3,163.2 93.9,163.2 93.9,166 68.3,164.2" fill="#cfcfcf"/></g>
<text x="917" y="1053.6" font-family="Liberation Sans" font-size="26" font-weight="normal" font-style="normal" fill="#161616" textLength="85.9" lengthAdjust="spacingAndGlyphs"  stroke="#fff" stroke-width="0.55">0/1-10V</text>
<text x="918.8" y="1084.8" font-family="Liberation Sans" font-size="26" font-weight="normal" font-style="normal" fill="#161616" textLength="90.4" lengthAdjust="spacingAndGlyphs"  stroke="#fff" stroke-width="0.55">Dimmer</text>
<g opacity="0.55"><text transform="translate(250,253) rotate(31)" x="0" y="13.0" text-anchor="middle" font-family="Liberation Sans" font-weight="bold" font-style="italic" fill="rgb(224,209,211)" stroke="rgb(224,209,211)" stroke-width="1.8" stroke-linejoin="round" textLength="202" lengthAdjust="spacingAndGlyphs" font-size="36">P<tspan font-size="27.4">LUS</tspan>P<tspan font-size="27.4">O</tspan>E</text></g>
<g opacity="0.55"><text transform="translate(245,451) rotate(31)" x="0" y="13.0" text-anchor="middle" font-family="Liberation Sans" font-weight="bold" font-style="italic" fill="rgb(224,209,211)" stroke="rgb(224,209,211)" stroke-width="1.8" stroke-linejoin="round" textLength="202" lengthAdjust="spacingAndGlyphs" font-size="36">P<tspan font-size="27.4">LUS</tspan>P<tspan font-size="27.4">O</tspan>E</text></g>
<g opacity="0.55"><text transform="translate(725,451) rotate(31)" x="0" y="13.0" text-anchor="middle" font-family="Liberation Sans" font-weight="bold" font-style="italic" fill="rgb(224,209,211)" stroke="rgb(224,209,211)" stroke-width="1.8" stroke-linejoin="round" textLength="202" lengthAdjust="spacingAndGlyphs" font-size="36">P<tspan font-size="27.4">LUS</tspan>P<tspan font-size="27.4">O</tspan>E</text></g>
<g opacity="0.55"><text transform="translate(1077,432) rotate(31)" x="0" y="13.0" text-anchor="middle" font-family="Liberation Sans" font-weight="bold" font-style="italic" fill="rgb(224,209,211)" stroke="rgb(224,209,211)" stroke-width="1.8" stroke-linejoin="round" textLength="202" lengthAdjust="spacingAndGlyphs" font-size="36">P<tspan font-size="27.4">LUS</tspan>P<tspan font-size="27.4">O</tspan>E</text></g>
<g opacity="0.55"><text transform="translate(277,931) rotate(31)" x="0" y="13.0" text-anchor="middle" font-family="Liberation Sans" font-weight="bold" font-style="italic" fill="rgb(224,209,211)" stroke="rgb(224,209,211)" stroke-width="1.8" stroke-linejoin="round" textLength="202" lengthAdjust="spacingAndGlyphs" font-size="36">P<tspan font-size="27.4">LUS</tspan>P<tspan font-size="27.4">O</tspan>E</text></g>
<g opacity="0.55"><text transform="translate(722,929) rotate(31)" x="0" y="13.0" text-anchor="middle" font-family="Liberation Sans" font-weight="bold" font-style="italic" fill="rgb(224,209,211)" stroke="rgb(224,209,211)" stroke-width="1.8" stroke-linejoin="round" textLength="202" lengthAdjust="spacingAndGlyphs" font-size="36">P<tspan font-size="27.4">LUS</tspan>P<tspan font-size="27.4">O</tspan>E</text></g>
<g opacity="0.55"><text transform="translate(1078,899) rotate(31)" x="0" y="13.0" text-anchor="middle" font-family="Liberation Sans" font-weight="bold" font-style="italic" fill="rgb(224,209,211)" stroke="rgb(224,209,211)" stroke-width="1.8" stroke-linejoin="round" textLength="202" lengthAdjust="spacingAndGlyphs" font-size="36">P<tspan font-size="27.4">LUS</tspan>P<tspan font-size="27.4">O</tspan>E</text></g>
<g opacity="0.55"><text transform="translate(1078,1141) rotate(31)" x="0" y="13.0" text-anchor="middle" font-family="Liberation Sans" font-weight="bold" font-style="italic" fill="rgb(224,209,211)" stroke="rgb(224,209,211)" stroke-width="1.8" stroke-linejoin="round" textLength="202" lengthAdjust="spacingAndGlyphs" font-size="36">P<tspan font-size="27.4">LUS</tspan>P<tspan font-size="27.4">O</tspan>E</text></g>
</svg>
</body></html>
